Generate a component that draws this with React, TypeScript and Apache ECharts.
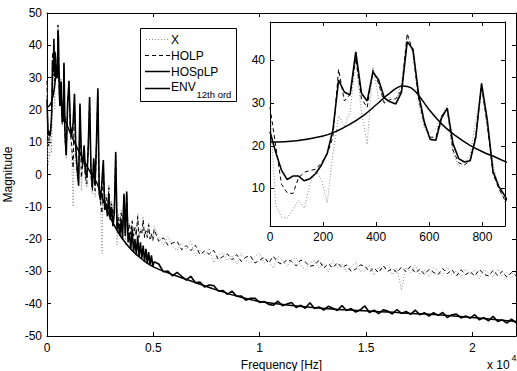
import React, { useEffect, useRef } from "react";
import * as echarts from "echarts";

// ---------- data ----------
const binHz = 44100 / 2048; // spectral bin spacing of the analysed frame

// bins 0..41 (0 – 883 Hz)
const lowX = [29, 6, 3.3, 3, 5, 7.3, 5.4, 11, 14.3, 12, 6.6, 18, 27, 24.5, 28, 40, 28, 20.3, 38.5, 31, 30, 31.5, 30, 35, 46, 41.5, 30, 24, 23, 24, 27, 29.5, 18, 15.2, 16, 18, 26, 33, 24, 16, 10, 7];
const lowHOLP = [29, 20, 11, 9, 8.8, 12.5, 13.8, 14.2, 14.5, 16, 18, 22, 37.9, 30.5, 32, 40.5, 31, 29, 37.8, 34.5, 30, 30.8, 31, 33, 46.3, 42, 31, 25, 22, 22, 27, 28.5, 19, 16, 15.5, 16.5, 22.5, 34, 25, 13.5, 10, 7.5];
const lowHOSpLP = [23.3, 18.5, 14.3, 12.1, 12.9, 12.9, 11.8, 12.3, 13.5, 15.5, 18.2, 23.7, 35.4, 32.6, 31.9, 42, 32.3, 30.5, 37.3, 35.4, 31.2, 30.3, 29.8, 32.5, 44.4, 42.6, 32, 25.5, 21.5, 21.3, 26.5, 28.8, 20.5, 17, 16.2, 16.5, 22, 34.6, 26, 14, 10.5, 8.4];

// bins 42..234 every 3rd bin (904 – 5039 Hz)
const midX = [5, 20, 28, 12, 6, -10, 22, 4, -2, -1, 21.5, -5, 2, 6, -3, -4, 10, 22, -2, -6, 3, -7, 8, 25, -4, -10, -24.5, 2, -9, -6, -10, -3, -11, -8, -13, -9, 5, -21.8, -12, -15, -11, -16, -8, -21.8, -5.5, -17, -15, -18, -14, -19, -16, -18.5, -12, -19, -17, -18, -13, -19.5, -17, -19, -15, -19.5, -18, -20, -16];
const midHOLP = [6, 21, 28.5, 13, 9, 2, 23, 6, 0, -2, 21, -1, 3, 7, -1, -3, 9, 23, 0, -5, 4, -5, 9, 25.5, -5, -9, -12, 3, -10, -7, -11, -4, -12, -9, -13.5, -10, 6, -16, -13, -16, -12, -17, -7, -18, -6, -17.5, -15.5, -18.5, -14.5, -19, -16.5, -19, -13, -19.5, -17.5, -18.5, -14, -19.5, -17.5, -19.5, -15.5, -20, -18.5, -20.5, -17];
const midHOSpLP = [6, 22, 29, 15, 12, 16, 25, 8, 2, -3.5, 22, 6, 3, 9, 0.5, -1, 8, 24, 2, -4, 5, -3, 10, 26.7, -6, -8, -2, 4.5, -11, -9, -13, -6, -14, -10, -16, -12, 7, -17, -15, -19, -14, -20, -6, -19, -5.3, -21, -18, -23, -17, -24, -20, -25, -19, -25.5, -21, -26, -22, -27, -23, -27.5, -24, -28, -25, -28.5, -27];

// bins 244..1024 every 10th bin (5254 – 22050 Hz)
const tailX = [-19.4, -21.8, -19.2, -22.2, -23.5, -21.2, -23.0, -20.8, -25.2, -23.2, -24.9, -22.9, -27.3, -24.8, -24.2, -26.6, -25.1, -27.8, -24.3, -26.5, -27.5, -25.3, -24.3, -27.4, -26.7, -29.0, -25.4, -26.4, -28.5, -26.3, -25.7, -28.1, -29.4, -27.3, -26.7, -29.1, -27.4, -30.2, -26.7, -28.9, -27.7, -30.1, -28.6, -27.1, -30.0, -29.7, -28.0, -31.2, -28.6, -29.7, -28.0, -31.0, -29.0, -35.8, -28.7, -30.5, -28.1, -31.1, -29.5, -31.7, -28.9, -29.8, -31.3, -28.7, -31.1, -29.7, -31.9, -29.2, -30.8, -29.6, -32.3, -29.5, -30.4, -31.7, -29.3, -31.4, -30.3, -32.1, -30.2];
const tailHOLP = [-20.7, -19.6, -21.9, -21.2, -20.7, -23.3, -22.0, -23.6, -21.9, -24.8, -23.7, -24.7, -23.5, -26.3, -25.4, -24.6, -26.4, -24.8, -26.9, -25.6, -25.2, -27.4, -26.6, -25.6, -27.4, -25.3, -27.2, -27.8, -26.3, -26.9, -28.3, -26.5, -27.1, -28.4, -28.1, -26.5, -29.0, -27.6, -28.9, -27.3, -28.8, -28.0, -30.0, -29.3, -28.0, -28.3, -30.1, -28.9, -30.4, -28.2, -30.0, -29.1, -30.3, -28.7, -30.1, -28.4, -30.5, -29.3, -30.9, -29.4, -30.3, -31.0, -29.1, -30.7, -29.5, -31.4, -29.5, -31.0, -30.1, -31.4, -29.4, -30.9, -31.4, -29.7, -31.3, -30.0, -31.8, -30.4, -31.3];
const tailHOSpLP = [-27.7, -30.1, -29.9, -31.4, -30.3, -31.5, -32.7, -31.5, -33.5, -33.3, -34.8, -34.2, -34.4, -36.1, -35.9, -37.1, -36.1, -37.7, -37.6, -38.9, -38.3, -38.3, -39.6, -39.3, -40.2, -40.5, -39.2, -40.6, -40.1, -39.6, -41.2, -40.5, -41.4, -39.7, -41.5, -41.0, -42.0, -40.8, -41.4, -42.1, -40.6, -42.1, -41.5, -42.6, -41.9, -40.7, -42.7, -42.0, -43.1, -41.9, -42.3, -43.2, -41.8, -43.0, -42.4, -43.3, -42.0, -43.4, -42.8, -43.8, -42.8, -43.6, -42.7, -44.3, -43.4, -43.2, -44.4, -43.8, -44.5, -43.4, -45.0, -44.3, -45.3, -43.9, -45.5, -45.0, -46.0, -44.8, -45.9];

// 12th order envelope
const envFreq = [0, 100, 200, 250, 300, 350, 400, 450, 500, 530, 560, 600, 650, 700, 750, 800, 850, 900, 1100, 1400, 1800, 2100, 2350, 2700, 3100, 3500, 4000, 4500, 5000, 6000, 7000, 8000, 9000, 10000, 12000, 14000, 16000, 18000, 20000, 22050];
const envValues = [20.9, 21.2, 22.3, 23.4, 25.0, 27.0, 29.6, 32.3, 34.0, 33.6, 31.8, 28.4, 24.9, 22.3, 20.2, 18.6, 17.3, 16.0, 12.8, 8.5, 3.5, 0, -2.7, -9, -15, -19.5, -23.5, -26.4, -28.6, -31.2, -33.5, -35.8, -37.8, -39.3, -40.9, -41.9, -42.6, -43.3, -44.3, -45.5];

const mainXTicks = [0, 5000, 10000, 15000, 20000];
const mainYTicks = [-50, -40, -30, -20, -10, 0, 10, 20, 30, 40, 50];
const insetXTicks = [0, 200, 400, 600, 800];
const insetYTicks = [10, 20, 30, 40];
const legendNames = ["X", "HOLP", "HOSpLP", "ENV"];

// ---------- build ----------
const bins: number[] = [];
for (let k = 0; k <= 41; k++) bins.push(k);
for (let k = 42; k <= 234; k += 3) bins.push(k);
for (let k = 244; k <= 1024; k += 10) bins.push(k);
const freqs = bins.map((k) => k * binHz);

const seriesX = lowX.concat(midX, tailX);
const seriesHOLP = lowHOLP.concat(midHOLP, tailHOLP);
const seriesHOSpLP = lowHOSpLP.concat(midHOSpLP, tailHOSpLP);

const pairs = (vals: number[]) => freqs.map((f, i) => [f, vals[i]]);
const envPairs = envFreq.map((f, i) => [f, envValues[i]]);

const FONT = "Liberation Sans, Arial, Helvetica, sans-serif";
const BLACK = "#000";
const GREY = "#8a8a8a";

const tickStyle = { color: BLACK, width: 1 };

function xAx(grid: number, max: number, ticks: number[], pos: "top" | "bottom", labels: boolean, extra: any = {}) {
  return {
    type: "value",
    gridIndex: grid,
    min: 0,
    max,
    position: pos,
    axisLine: { show: true, onZero: false, lineStyle: { color: BLACK, width: 1 } },
    axisTick: { show: true, inside: true, length: 4, customValues: ticks, lineStyle: tickStyle },
    axisLabel: labels
      ? { show: true, customValues: ticks, color: BLACK, fontSize: 12, fontFamily: FONT, margin: 5, ...(extra.label || {}) }
      : { show: false },
    splitLine: { show: false },
    ...(extra.axis || {}),
  };
}

function yAx(grid: number, min: number, max: number, ticks: number[], pos: "left" | "right", labels: boolean, extra: any = {}) {
  return {
    type: "value",
    gridIndex: grid,
    min,
    max,
    position: pos,
    axisLine: { show: true, onZero: false, lineStyle: { color: BLACK, width: 1 } },
    axisTick: { show: true, inside: true, length: 4, customValues: ticks, lineStyle: tickStyle },
    axisLabel: labels
      ? { show: true, customValues: ticks, color: BLACK, fontSize: 12, fontFamily: FONT, margin: 5 }
      : { show: false },
    splitLine: { show: false },
    ...(extra.axis || {}),
  };
}

function lineSeries(name: string, data: number[][], xi: number, yi: number, style: any, z: number, smooth: any = false) {
  return {
    name,
    type: "line",
    xAxisIndex: xi,
    yAxisIndex: yi,
    data,
    showSymbol: false,
    symbol: "none",
    smooth,
    clip: true,
    z,
    lineStyle: style,
    emphasis: { disabled: true },
  };
}

const styleX = { color: GREY, width: 1, type: [1, 2] };
const styleHOLP = { color: BLACK, width: 1, type: [4, 3] };
const styleHOSpLP = { color: BLACK, width: 1.6, type: "solid" };
const styleENV = { color: BLACK, width: 1.5, type: "solid" };

const legendRows = [
  { y: 39.5, style: { stroke: GREY, lineWidth: 1, lineDash: [1, 2] }, x1: 146, x2: 168 },
  { y: 55.5, style: { stroke: BLACK, lineWidth: 1, lineDash: [4, 3] }, x1: 145, x2: 170 },
  { y: 71.5, style: { stroke: BLACK, lineWidth: 1.5 }, x1: 145, x2: 170 },
  { y: 88.5, style: { stroke: BLACK, lineWidth: 1.5 }, x1: 145, x2: 170 },
];

const graphicElements: any[] = [
  {
    type: "rect",
    z: 100,
    shape: { x: 140.5, y: 28.5, width: 96, height: 73 },
    style: { fill: "#fff", stroke: BLACK, lineWidth: 1 },
  },
];
legendRows.forEach((r, i) => {
  graphicElements.push({
    type: "line",
    z: 101,
    shape: { x1: r.x1, y1: r.y, x2: r.x2, y2: r.y },
    style: { ...r.style, fill: "none" },
  });
  graphicElements.push({
    type: "text",
    z: 101,
    style: {
      text: legendNames[i],
      x: 171,
      y: i === 3 ? 86.5 : r.y,
      align: "left",
      verticalAlign: "middle",
      fontSize: 12,
      fontFamily: FONT,
      fill: BLACK,
    },
  });
});
graphicElements.push({
  type: "text",
  z: 101,
  style: { text: "12th ord", x: 196.5, y: 94.5, align: "left", verticalAlign: "middle", fontSize: 9.5, fontFamily: FONT, fill: BLACK },
});
graphicElements.push({
  type: "text",
  z: 101,
  style: { text: "x 10", x: 487, y: 365, align: "left", verticalAlign: "middle", fontSize: 12, fontFamily: FONT, fill: BLACK },
});
graphicElements.push({
  type: "text",
  z: 101,
  style: { text: "4", x: 511.5, y: 358, align: "left", verticalAlign: "middle", fontSize: 9, fontFamily: FONT, fill: BLACK },
});

const option: any = {
  animation: false,
  backgroundColor: "#fff",
  textStyle: { fontFamily: FONT },
  grid: [
    { left: 47, top: 13, width: 469, height: 323, show: false, containLabel: false, outerBoundsMode: "none" },
    {
      left: 270, top: 22, width: 235, height: 204, show: true, backgroundColor: "#fff", borderWidth: 0,
      containLabel: false, outerBoundsMode: "none", z: 5,
    },
  ],
  xAxis: [
    xAx(0, 22050, mainXTicks, "bottom", true, {
      label: { formatter: (v: number) => String(v / 10000), margin: 6 },
      axis: {
        name: "Frequency [Hz]",
        nameLocation: "middle",
        nameGap: 17,
        nameTextStyle: { color: BLACK, fontSize: 12, fontFamily: FONT },
      },
    }),
    xAx(0, 22050, mainXTicks, "top", false),
    { ...xAx(1, 885, insetXTicks, "bottom", true), z: 12 },
    { ...xAx(1, 885, insetXTicks, "top", false), z: 12 },
  ],
  yAxis: [
    yAx(0, -50, 50, mainYTicks, "left", true, {
      axis: {
        name: "Magnitude",
        nameLocation: "middle",
        nameGap: 26,
        nameRotate: 90,
        nameTextStyle: { color: BLACK, fontSize: 12, fontFamily: FONT },
      },
    }),
    yAx(0, -50, 50, mainYTicks, "right", false),
    { ...yAx(1, 1.2, 49, insetYTicks, "left", true), z: 12 },
    { ...yAx(1, 1.2, 49, insetYTicks, "right", false), z: 12 },
  ],
  series: [
    lineSeries("X", pairs(seriesX), 0, 0, styleX, 2),
    lineSeries("HOLP", pairs(seriesHOLP), 0, 0, styleHOLP, 2),
    lineSeries("HOSpLP", pairs(seriesHOSpLP), 0, 0, styleHOSpLP, 2),
    lineSeries("ENV", envPairs, 0, 0, styleENV, 2, 0.4),
    lineSeries("X (inset)", pairs(seriesX), 2, 2, styleX, 10),
    lineSeries("HOLP (inset)", pairs(seriesHOLP), 2, 2, styleHOLP, 10),
    lineSeries("HOSpLP (inset)", pairs(seriesHOSpLP), 2, 2, styleHOSpLP, 10),
    lineSeries("ENV (inset)", envPairs, 2, 2, styleENV, 10, 0.4),
  ],
  graphic: { elements: graphicElements },
};

export default function App() {
  const ref = useRef<HTMLDivElement>(null);
  useEffect(() => {
    if (!ref.current) return;
    const chart = echarts.init(ref.current, null, { renderer: "svg" });
    chart.setOption(option);
    return () => chart.dispose();
  }, []);
  return (
    <div
      ref={ref}
      style={{ position: "absolute", left: 0, top: 0, width: 517, height: 371, background: "#fff" }}
    />
  );
}
